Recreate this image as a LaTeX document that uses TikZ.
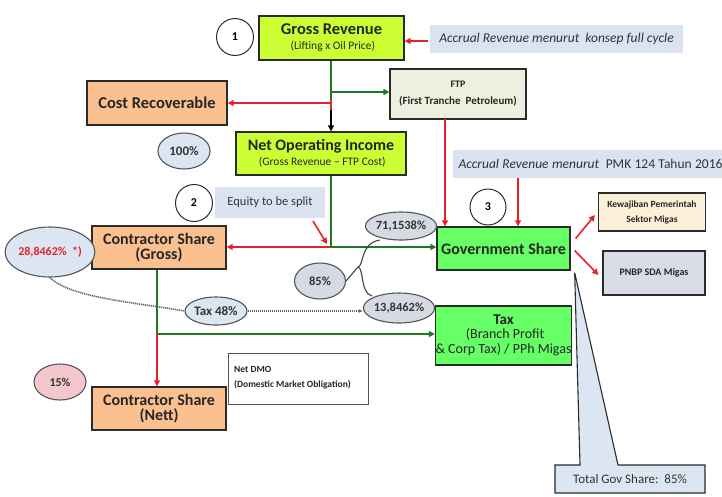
\documentclass[tikz,border=0pt]{standalone}
\usepackage{fontspec}
\setmainfont{Carlito}
\usetikzlibrary{arrows.meta,calc,shapes.geometric}
\definecolor{yg}{HTML}{CCFF33}
\definecolor{peach}{HTML}{FAC090}
\definecolor{ftpc}{HTML}{EBF1DE}
\definecolor{govg}{HTML}{66FF66}
\definecolor{dgreen}{HTML}{1F7A1F}
\definecolor{myred}{HTML}{E8202A}
\definecolor{notec}{HTML}{DCE3F0}
\definecolor{ellc}{HTML}{DCE6F2}
\definecolor{grayell}{HTML}{D5DAE3}
\definecolor{pinkc}{HTML}{F4C7CC}
\definecolor{kewc}{HTML}{FDF0D8}
\definecolor{pnbpc}{HTML}{D8DCE6}
\definecolor{bordc}{HTML}{2B2B2B}
\newcommand{\fsz}[1]{\fontsize{#1}{#1}\selectfont}
\begin{document}
\begin{tikzpicture}[x=1pt,y=-1pt,
  box/.style={draw=bordc, line width=1.3pt, inner sep=0pt, align=center, text=black!85},
  note/.style={fill=notec, inner sep=0pt, align=center, text=black!80},
  num/.style={circle, draw=bordc, line width=1pt, fill=white, minimum size=37pt, inner sep=0pt, font=\fsz{12}\bfseries},
  pct/.style={ellipse, draw=bordc!80, line width=1.1pt, fill=ellc, inner sep=0pt, font=\fsz{12.5}\bfseries, text=black!80},
  gline/.style={draw=dgreen, line width=1.8pt},
  rline/.style={draw=myred, line width=1.8pt},
  garrow/.style={gline, -{Triangle[length=6pt,width=6pt]}},
  rarrow/.style={rline, -{Triangle[length=6pt,width=6pt]}},
  dotline/.style={draw=gray!80!black, line width=1.6pt, dash pattern=on 1.2pt off 0.8pt}
]
\useasboundingbox (0,0) rectangle (722,496);

% main boxes
\node[box, fill=yg, minimum width=145pt, minimum height=44pt] (gross) at (331.5,38)
  {\fsz{16.5}\bfseries Gross Revenue\\[3pt]\fsz{11.5} (Lifting x Oil Price)};
\node[box, fill=peach, minimum width=140pt, minimum height=44pt] (cost) at (157,103)
  {\fsz{16.5}\bfseries Cost Recoverable};
\node[box, fill=ftpc, line width=1.1pt, minimum width=136pt, minimum height=50pt] (ftp) at (458,94)
  {\fsz{10}\bfseries FTP\\[5pt]\fsz{11}\bfseries (First Tranche\ \ Petroleum)};
\node[box, fill=yg, minimum width=170pt, minimum height=43pt] (noi) at (321,153.5)
  {\fsz{16}\bfseries Net Operating Income\\[3pt]\fsz{11.5} (Gross Revenue -- FTP Cost)};
\node[box, fill=govg, minimum width=133pt, minimum height=43pt] (gov) at (503.5,248.5)
  {\fsz{16}\bfseries Government Share};
\node[box, fill=govg, minimum width=133pt, minimum height=59pt] (tax) at (503.5,335.5)
  {\fsz{15}\bfseries Tax\\[2pt]\fsz{14} (Branch Profit\\[2pt]\fsz{14}\& Corp Tax) / PPh Migas};
\node[box, fill=peach, minimum width=134pt, minimum height=43pt] (csg) at (159,247.5)
  {\fsz{16}\bfseries Contractor Share\\[3pt]\fsz{16}\bfseries (Gross)};
\node[box, fill=peach, minimum width=134pt, minimum height=43pt] (csn) at (159,408.5)
  {\fsz{16}\bfseries Contractor Share\\[3pt]\fsz{16}\bfseries (Nett)};
\node[box, fill=kewc, line width=1.1pt, minimum width=107pt, minimum height=38pt] (kew) at (652,212)
  {\fsz{9.5}\bfseries Kewajiban Pemerintah\\[3pt]\fsz{9.5}\bfseries Sektor Migas};
\node[box, fill=pnbpc, line width=1.1pt, minimum width=102pt, minimum height=44pt] (pnbp) at (654,273)
  {\fsz{10}\bfseries PNBP SDA Migas};
\node[box, fill=white, line width=0.9pt, draw=bordc!80, minimum width=140pt, minimum height=51pt] (dmo) at (298,378.5) {};
\node[inner sep=0pt, anchor=north west, align=left, text=black!85] (dmotext) at (234,366)
  {\fsz{9.5}\bfseries Net DMO\\[3pt]\fsz{9.5}\bfseries (Domestic Market Obligation)};

% notes
\node[note, minimum width=253pt, minimum height=28pt] (note1) at (556.5,39)
  {\fsz{13.5}\itshape Accrual Revenue menurut\ \ konsep full cycle};
\node[note, minimum width=282pt, minimum height=28pt, anchor=west, text width=278pt, align=left] (note2) at (453,164)
  {\fsz{13.5}\itshape\ Accrual Revenue menurut\ \ \upshape PMK 124 Tahun 2016};
\node[note, minimum width=110pt, minimum height=31pt] (equity) at (270,202.5)
  {\fsz{12.5}Equity to be split};

% numbers
\node[num] (n1) at (235,37) {1};
\node[num] (n2) at (194,203) {2};
\node[num, minimum size=36pt] (n3) at (488,207) {3};

% percentage ellipses
\node[pct, minimum width=52pt, minimum height=36pt, font=\fsz{13}\bfseries] (e100) at (184,151) {100\%};
\node[pct, minimum width=74pt, minimum height=50pt, text=myred, font=\fsz{12}\bfseries] (e28) at (50,252) {28,8462\%\ \ *)};
\node[pct, fill=grayell, minimum width=51pt, minimum height=36pt] (e85) at (320,281) {85\%};
\node[pct, fill=grayell, minimum width=62pt, minimum height=28pt] (e71) at (401,226) {71,1538\%};
\node[pct, fill=grayell, minimum width=60pt, minimum height=30pt] (e13) at (399,308) {13,8462\%};
\node[pct, minimum width=62pt, minimum height=28pt, font=\fsz{13}\bfseries] (e48) at (216,311) {Tax 48\%};
\node[pct, fill=pinkc, minimum width=52pt, minimum height=36pt, font=\fsz{12}\bfseries] (e15) at (60,382) {15\%};

% junctions
\coordinate (ja) at (331,92);
\coordinate (jb) at (331,100);
\coordinate (jc) at (331,110);
\coordinate (j3) at (331,247);
\coordinate (j4) at (157,334);
\coordinate (ftpout) at (445,119);
\coordinate (n2out) at (518,178);
\coordinate (eqa) at (313,221);
\coordinate (eqb) at (327,244);

% gross revenue flow
\draw[gline] (gross.south -| ja) -- (jb);
\draw[garrow] (ja) -- (ja -| ftp.west);
\draw[rline] (jb) -- (jc);
\draw[rarrow] (331,103) coordinate (jr) -- (jr -| cost.east);
\draw[draw=black, line width=1.5pt, -{Triangle[length=6pt,width=6pt]}] (jc) -- (jc |- noi.north);
\draw[rarrow] (note1.west) ++(-2,2) coordinate (n1a) -- (n1a -| gross.east);

% NOI split
\draw[gline] (noi.south -| j3) -- (j3);
\draw[garrow] (j3) -- (j3 -| gov.west);
\draw[rarrow] (j3) -- (j3 -| csg.east);
\draw[rline, line width=1.6pt, -{Triangle[length=6pt,width=6pt]}] (eqa) -- (eqb);

% into government
\draw[rarrow] (ftpout) -- (ftpout |- gov.north);
\draw[rarrow] (n2out) -- (n2out |- gov.north);
\draw[rarrow, line width=1.6pt] ($(gov.east)+(5,-10)$) -- ($(kew.west)+(-3,3)$);
\draw[rarrow, line width=1.6pt] ($(gov.east)+(4,2)$) -- ($(pnbp.west)+(-4,2)$);

% contractor split
\draw[gline] (csg.south -| j4) -- (j4);
\draw[garrow] (j4) -- (j4 -| tax.west);
\draw[rarrow] (j4) -- (j4 |- csn.north);

% brace
\coordinate (br1) at (358,267);
\draw[draw=black!75, line width=1.1pt] (e85.east) -- (br1)
  .. controls (364,266) and (360,243) .. (380,240);
\draw[draw=black!75, line width=1.1pt] (br1)
  .. controls (364,268) and (360,293) .. (372,296);

% dotted tax path
\draw[dotline] (e28.south) .. controls (70,298) and (140,303) .. (e48.west);
\draw[dotline, -{Latex[length=4pt,width=4pt]}] (e48.east) -- (e48.east -| e13.west);

% callout
\coordinate (tip) at ($(gov.south east)+(4,2)$);
\draw[draw=bordc, line width=1.1pt, fill=ellc]
  (555,465) -- (580,465) -- (tip) -- (618,465) -- (705,465) -- (705,493) -- (555,493) -- cycle;
\node[inner sep=0pt, text=black!80] (totgov) at (630,479) {\fsz{13}Total Gov Share:\ \ 85\%};
\end{tikzpicture}
\end{document}
